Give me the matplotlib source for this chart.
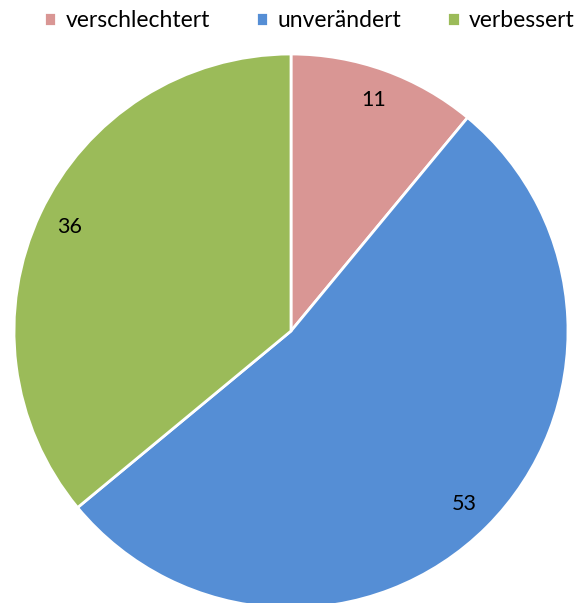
import matplotlib.pyplot as plt

# data
categories = ["verschlechtert", "unverändert", "verbessert"]
values = [11, 53, 36]
colors = ["#D99694", "#558ED5", "#9BBB59"]

plt.rcParams['font.family'] = ['Lato', 'DejaVu Sans']

fig = plt.figure(figsize=(5.81, 6.03), dpi=100)
ax = fig.add_axes([0, 0, 1, 1])

wedges, texts = ax.pie(values, colors=colors, labels=[str(v) for v in values],
                       startangle=90, counterclock=False, radius=1.0,
                       labeldistance=0.885,
                       wedgeprops=dict(edgecolor="white", linewidth=2),
                       textprops=dict(fontsize=15.5, color="black", ha="center", va="center"))
for t in texts:
    t.set_ha("center")

ax.set_xlim(-291 / 277, (581 - 291) / 277)
ax.set_ylim(-(603 - 331) / 277, 331 / 277)
ax.set_aspect("auto")
ax.axis("off")

fig.legend(wedges, categories, loc="upper center", bbox_to_anchor=(0.532, 1.018),
           ncol=3, frameon=False, fontsize=16.5, handlelength=0.55, handleheight=0.55,
           handletextpad=0.4, columnspacing=2.0)

fig.savefig("out.png", dpi=100)
